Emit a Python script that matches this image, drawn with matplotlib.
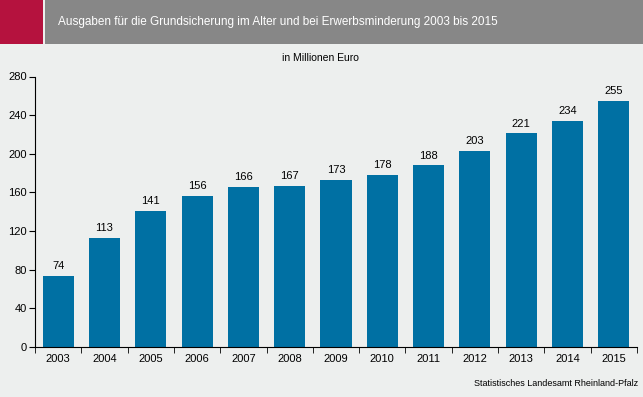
import numpy as np
import matplotlib.pyplot as plt
from matplotlib.patches import Rectangle

plt.rcParams['font.family'] = ['Liberation Sans', 'DejaVu Sans']

jahre = ['2003', '2004', '2005', '2006', '2007', '2008', '2009', '2010', '2011', '2012', '2013', '2014', '2015']
ausgaben = [74, 113, 141, 156, 166, 167, 173, 178, 188, 203, 221, 234, 255]
yticks = [0, 40, 80, 120, 160, 200, 240, 280]

bg = '#EDEFEE'
blau = '#0070A3'

W, H = 643, 397
fig = plt.figure(figsize=(W / 100, H / 100), dpi=100, facecolor=bg)

# kopfzeile
fig.patches.append(Rectangle((0, 1 - 44 / H), 43 / W, 44 / H, transform=fig.transFigure,
                             facecolor='#B5123E', edgecolor='none'))
fig.patches.append(Rectangle((45 / W, 1 - 44 / H), 1 - 45 / W, 44 / H, transform=fig.transFigure,
                             facecolor='#878787', edgecolor='none'))
fig.text(58 / W, 1 - 22 / H, 'Ausgaben für die Grundsicherung im Alter und bei Erwerbsminderung 2003 bis 2015',
         color='white', fontsize=8.5, va='center', ha='left')
fig.text(320 / W, 1 - 58 / H, 'in Millionen Euro', fontsize=7.5, ha='center', va='center')
fig.text(638 / W, 1 - 384 / H, 'Statistisches Landesamt Rheinland-Pfalz', fontsize=6.5, ha='right', va='center')

ax = fig.add_axes([35 / W, 1 - 347 / H, (637 - 35) / W, (347 - 76.5) / H])
ax.set_facecolor(bg)
x = np.arange(len(jahre))
ax.bar(x, ausgaben, width=0.67, color=blau)
for xi, v in zip(x, ausgaben):
    ax.text(xi, v + 5, str(v), ha='center', va='bottom', fontsize=8)

ax.set_xlim(-0.5, len(jahre) - 0.5)
ax.set_ylim(0, 280)
ax.set_yticks(yticks)
ax.set_xticks(x)
ax.set_xticklabels(jahre)
ax.set_xticks(np.arange(len(jahre) + 1) - 0.5, minor=True)
ax.tick_params(axis='x', which='major', length=0, pad=5, labelsize=8)
ax.tick_params(axis='x', which='minor', length=4, direction='out')
ax.tick_params(axis='y', length=4, labelsize=8, pad=2)
for s in ['top', 'right']:
    ax.spines[s].set_visible(False)

fig.savefig('out.png', dpi=100, facecolor=bg)
